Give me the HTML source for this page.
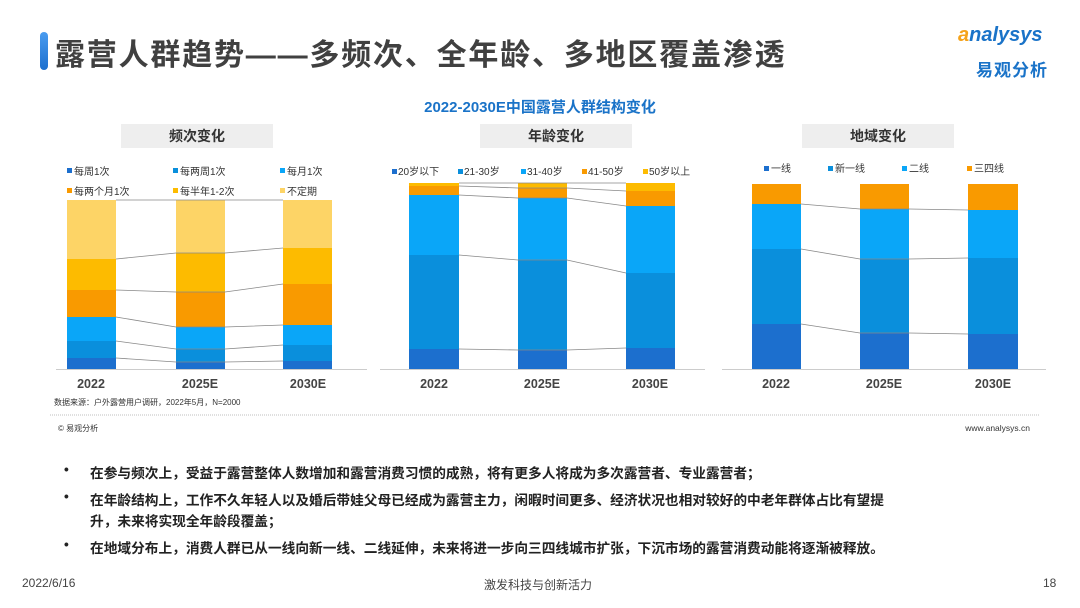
<!DOCTYPE html>
<html><head><meta charset="utf-8">
<style>
html,body{margin:0;padding:0;background:#fff;}
body{width:1080px;height:608px;position:relative;overflow:hidden;font-family:"Liberation Sans","Noto Sans CJK SC",sans-serif;}
.abs{position:absolute;white-space:nowrap;}
.bul{font-size:13.7px;font-weight:bold;color:#222;}
</style></head><body>
<div class="abs" style="left:40px;top:32px;width:8px;height:38px;border-radius:4px;background:linear-gradient(#4a9cf0,#1c6fce);"></div>
<div class="abs" style="left:55px;top:30px;font-size:30px;font-weight:bold;color:#404040;letter-spacing:1.8px;">露营人群趋势——多频次、全年龄、多地区覆盖渗透</div>
<div class="abs" style="left:958px;top:24px;font-size:20px;font-style:italic;font-weight:bold;color:#1a73c8;"><span style="color:#f5a21a">a</span>nalysys</div>
<div class="abs" style="left:976px;top:56px;font-size:17px;font-weight:bold;color:#1a73c8;letter-spacing:1px;">易观分析</div>

<svg class="abs" style="left:0;top:0" width="1080" height="440" xmlns="http://www.w3.org/2000/svg" font-family="Liberation Sans, Noto Sans CJK SC, sans-serif">
<text x="540" y="112" text-anchor="middle" font-size="15" font-weight="bold" fill="#1a73c8">2022-2030E中国露营人群结构变化</text>
<rect x="121" y="124" width="152" height="24" fill="#eeeeee"/>
<text x="197" y="141" text-anchor="middle" font-size="14" font-weight="bold" fill="#333">频次变化</text>
<rect x="480" y="124" width="152" height="24" fill="#eeeeee"/>
<text x="556" y="141" text-anchor="middle" font-size="14" font-weight="bold" fill="#333">年龄变化</text>
<rect x="802" y="124" width="152" height="24" fill="#eeeeee"/>
<text x="878" y="141" text-anchor="middle" font-size="14" font-weight="bold" fill="#333">地域变化</text>

<g font-size="10" fill="#333">
<rect x="67" y="168" width="5" height="5" fill="#1c6fce"/><text x="74" y="175">每周1次</text>
<rect x="173" y="168" width="5" height="5" fill="#0a8fdc"/><text x="180" y="175">每两周1次</text>
<rect x="280" y="168" width="5" height="5" fill="#0aa6f8"/><text x="287" y="175">每月1次</text>
<rect x="67" y="188" width="5" height="5" fill="#f99a00"/><text x="74" y="195">每两个月1次</text>
<rect x="173" y="188" width="5" height="5" fill="#fdbb00"/><text x="180" y="195">每半年1-2次</text>
<rect x="280" y="188" width="5" height="5" fill="#fdd466"/><text x="287" y="195">不定期</text>

<rect x="392" y="169" width="5" height="5" fill="#1c6fce"/><text x="398" y="175">20岁以下</text>
<rect x="458" y="169" width="5" height="5" fill="#0a8fdc"/><text x="464" y="175">21-30岁</text>
<rect x="521" y="169" width="5" height="5" fill="#0aa6f8"/><text x="527" y="175">31-40岁</text>
<rect x="582" y="169" width="5" height="5" fill="#f99a00"/><text x="588" y="175">41-50岁</text>
<rect x="643" y="169" width="5" height="5" fill="#fdbb00"/><text x="649" y="175">50岁以上</text>

<rect x="764" y="166" width="5" height="5" fill="#1c6fce"/><text x="771" y="172">一线</text>
<rect x="828" y="166" width="5" height="5" fill="#0a8fdc"/><text x="835" y="172">新一线</text>
<rect x="902" y="166" width="5" height="5" fill="#0aa6f8"/><text x="909" y="172">二线</text>
<rect x="967" y="166" width="5" height="5" fill="#f99a00"/><text x="974" y="172">三四线</text>
</g>

<g>
<rect x="67" y="200" width="49" height="59" fill="#fdd466"/><rect x="67" y="259" width="49" height="31" fill="#fdbb00"/><rect x="67" y="290" width="49" height="27" fill="#f99a00"/><rect x="67" y="317" width="49" height="24" fill="#0aa6f8"/><rect x="67" y="341" width="49" height="17" fill="#0a8fdc"/><rect x="67" y="358" width="49" height="11" fill="#1c6fce"/>
<rect x="176" y="200" width="49" height="53" fill="#fdd466"/><rect x="176" y="253" width="49" height="39" fill="#fdbb00"/><rect x="176" y="292" width="49" height="35" fill="#f99a00"/><rect x="176" y="327" width="49" height="22" fill="#0aa6f8"/><rect x="176" y="349" width="49" height="13" fill="#0a8fdc"/><rect x="176" y="362" width="49" height="7" fill="#1c6fce"/>
<rect x="283" y="200" width="49" height="48" fill="#fdd466"/><rect x="283" y="248" width="49" height="36" fill="#fdbb00"/><rect x="283" y="284" width="49" height="41" fill="#f99a00"/><rect x="283" y="325" width="49" height="20" fill="#0aa6f8"/><rect x="283" y="345" width="49" height="16" fill="#0a8fdc"/><rect x="283" y="361" width="49" height="8" fill="#1c6fce"/>
<g stroke="#888" stroke-width="0.8" fill="none">
<polyline points="116,200 176,200 225,200 283,200"/>
<polyline points="116,259 176,253 225,253 283,248"/>
<polyline points="116,290 176,292 225,292 283,284"/>
<polyline points="116,317 176,327 225,327 283,325"/>
<polyline points="116,341 176,349 225,349 283,345"/>
<polyline points="116,358 176,362 225,362 283,361"/>
</g>
<line x1="56" y1="369.5" x2="367" y2="369.5" stroke="#ccc"/>
</g>

<g>
<rect x="409" y="183" width="50" height="3" fill="#fdbb00"/><rect x="409" y="186" width="50" height="9" fill="#f99a00"/><rect x="409" y="195" width="50" height="60" fill="#0aa6f8"/><rect x="409" y="255" width="50" height="94" fill="#0a8fdc"/><rect x="409" y="349" width="50" height="20" fill="#1c6fce"/>
<rect x="518" y="183" width="49" height="5" fill="#fdbb00"/><rect x="518" y="188" width="49" height="10" fill="#f99a00"/><rect x="518" y="198" width="49" height="62" fill="#0aa6f8"/><rect x="518" y="260" width="49" height="90" fill="#0a8fdc"/><rect x="518" y="350" width="49" height="19" fill="#1c6fce"/>
<rect x="626" y="183" width="49" height="8" fill="#fdbb00"/><rect x="626" y="191" width="49" height="15" fill="#f99a00"/><rect x="626" y="206" width="49" height="67" fill="#0aa6f8"/><rect x="626" y="273" width="49" height="75" fill="#0a8fdc"/><rect x="626" y="348" width="49" height="21" fill="#1c6fce"/>
<g stroke="#888" stroke-width="0.8" fill="none">
<polyline points="459,183 518,183 567,183 626,183"/>
<polyline points="459,186 518,188 567,188 626,191"/>
<polyline points="459,195 518,198 567,198 626,206"/>
<polyline points="459,255 518,260 567,260 626,273"/>
<polyline points="459,349 518,350 567,350 626,348"/>
</g>
<line x1="380" y1="369.5" x2="705" y2="369.5" stroke="#ccc"/>
</g>

<g>
<rect x="752" y="184" width="49" height="20" fill="#f99a00"/><rect x="752" y="204" width="49" height="45" fill="#0aa6f8"/><rect x="752" y="249" width="49" height="75" fill="#0a8fdc"/><rect x="752" y="324" width="49" height="45" fill="#1c6fce"/>
<rect x="860" y="184" width="49" height="25" fill="#f99a00"/><rect x="860" y="209" width="49" height="50" fill="#0aa6f8"/><rect x="860" y="259" width="49" height="74" fill="#0a8fdc"/><rect x="860" y="333" width="49" height="36" fill="#1c6fce"/>
<rect x="968" y="184" width="50" height="26" fill="#f99a00"/><rect x="968" y="210" width="50" height="48" fill="#0aa6f8"/><rect x="968" y="258" width="50" height="76" fill="#0a8fdc"/><rect x="968" y="334" width="50" height="35" fill="#1c6fce"/>
<g stroke="#888" stroke-width="0.8" fill="none">
<polyline points="801,204 860,209 909,209 968,210"/>
<polyline points="801,249 860,259 909,259 968,258"/>
<polyline points="801,324 860,333 909,333 968,334"/>
</g>
<line x1="722" y1="369.5" x2="1046" y2="369.5" stroke="#ccc"/>
</g>

<g font-size="12.5" font-weight="bold" fill="#444" text-anchor="middle">
<text x="91" y="388">2022</text><text x="200" y="388">2025E</text><text x="308" y="388">2030E</text>
<text x="434" y="388">2022</text><text x="542" y="388">2025E</text><text x="650" y="388">2030E</text>
<text x="776" y="388">2022</text><text x="884" y="388">2025E</text><text x="993" y="388">2030E</text>
</g>
<text x="54" y="405" font-size="8" fill="#333">数据来源：户外露营用户调研，2022年5月，N=2000</text>
<line x1="50" y1="415" x2="1040" y2="415" stroke="#aaa" stroke-width="0.8" stroke-dasharray="1,1"/>
<text x="58" y="431" font-size="8" fill="#333">© 易观分析</text>
<text x="1030" y="431" font-size="8.5" fill="#333" text-anchor="end">www.analysys.cn</text>
</svg>

<div class="abs bul" style="left:64px;top:462px;">•</div>
<div class="abs bul" style="left:90px;top:462px;">在参与频次上，受益于露营整体人数增加和露营消费习惯的成熟，将有更多人将成为多次露营者、专业露营者；</div>
<div class="abs bul" style="left:64px;top:489px;">•</div>
<div class="abs bul" style="left:90px;top:489px;">在年龄结构上，工作不久年轻人以及婚后带娃父母已经成为露营主力，闲暇时间更多、经济状况也相对较好的中老年群体占比有望提</div>
<div class="abs bul" style="left:90px;top:510px;">升，未来将实现全年龄段覆盖；</div>
<div class="abs bul" style="left:64px;top:537px;">•</div>
<div class="abs bul" style="left:90px;top:537px;">在地域分布上，消费人群已从一线向新一线、二线延伸，未来将进一步向三四线城市扩张，下沉市场的露营消费动能将逐渐被释放。</div>

<div class="abs" style="left:22px;top:576px;font-size:12px;color:#444;">2022/6/16</div>
<div class="abs" style="left:484px;top:576px;font-size:12px;color:#444;">激发科技与创新活力</div>
<div class="abs" style="left:1043px;top:576px;font-size:12px;color:#444;">18</div>
</body></html>
